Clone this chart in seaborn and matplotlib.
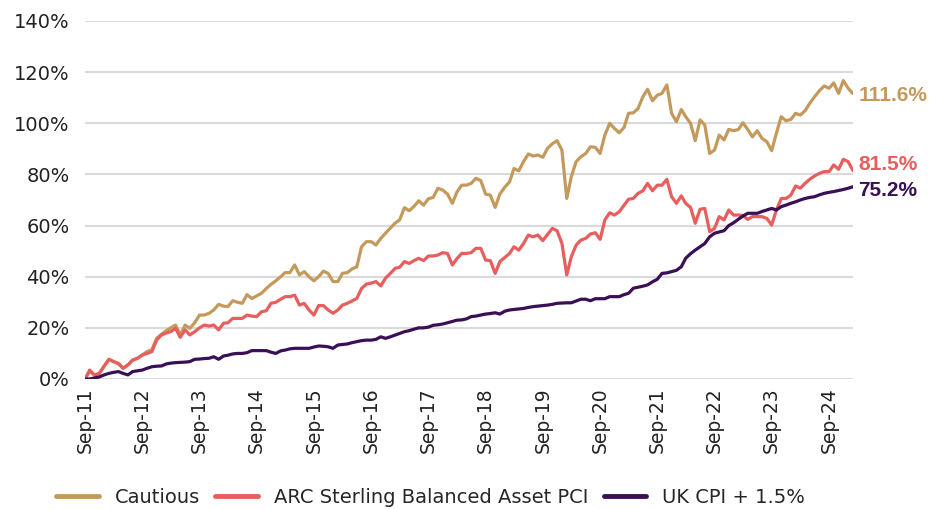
import pandas as pd
import seaborn as sns
import matplotlib.pyplot as plt
import matplotlib.dates as mdates
from matplotlib.ticker import FuncFormatter

# Monthly cumulative returns (%), Sep-11 onwards
cautious = [0, 3.0, 1.5, 2.2, 5, 7.7, 6.8, 6, 4.2, 5.5, 7.4, 8.1, 9.4, 10.7, 11.5, 15.9,
            17.5, 18.9, 20, 21.1, 17.2, 21.1, 19.8, 22, 25, 25, 25.7, 27, 29.2, 28.5,
            28.3, 30.6, 30, 29.6, 33, 31.5, 32.5, 33.5, 35.4, 37, 38.4, 40, 41.6, 41.6,
            44.6, 40.7, 42, 40, 38.4, 40, 42.2, 41.3, 38.1, 38.1, 41.3, 41.6, 43, 43.9,
            51.7, 53.7, 53.7, 52.4, 55, 57, 59, 61, 62.2, 67, 65.8, 67.5, 69.7, 68,
            70.5, 71, 74.6, 73.9, 72.3, 68.7, 73, 75.8, 75.8, 76.5, 78.5, 77.6, 72.3,
            71.9, 67.1, 72.3, 75, 77.1, 82.3, 81.4, 85, 88, 87.2, 87.6, 86.7, 90.2, 92,
            93.2, 89.5, 70.6, 79.1, 85, 86.9, 88.2, 90.8, 90.6, 88.2, 95.4, 100, 98,
            96.3, 98.4, 103.9, 104.1, 105.8, 110.4, 113.3, 108.8, 111, 111.7, 115,
            103.9, 100.6, 105.4, 102.6, 100, 93.2, 101.3, 99.3, 88.2, 89.5, 95.4, 93.5,
            97.6, 97.1, 97.6, 100.2, 97.6, 94.7, 97.1, 94.1, 92.8, 89.3, 96.1, 102.6,
            101, 101.5, 103.9, 103.2, 104.9, 107.8, 110.4, 112.7, 114.6, 113.7, 115.8,
            111.7, 116.7, 113.7, 111.6]

arc_balanced = [0, 3.5, 1.5, 2.2, 5, 7.7, 6.8, 6.1, 4.2, 5.5, 7.4, 8.1, 9.4, 10, 10.7,
                15.2, 17.2, 18, 18.5, 19.8, 16.3, 19.2, 17.2, 18.5, 20, 21.1, 20.7, 21.1,
                19.2, 21.8, 22, 23.7, 23.7, 23.7, 25, 24.6, 24.4, 26.3, 26.7, 29.6, 30,
                31.2, 32.2, 32.2, 32.8, 28.9, 29.6, 27, 25, 28.7, 28.7, 27, 25.7, 27,
                28.9, 29.6, 30.5, 31.5, 35.4, 37.1, 37.5, 38.1, 36.4, 39.4, 41.3, 43.3,
                43.7, 45.9, 45.2, 46.3, 47.2, 46.3, 48.1, 48.1, 48.5, 49.4, 49.1, 44.6,
                47, 49.1, 49.1, 49.4, 51.1, 51.1, 46.5, 46.3, 41.3, 45.9, 47.5, 49.1,
                51.7, 50.4, 53, 56.3, 55.6, 56.3, 54.1, 56.5, 58.9, 58, 53.1, 40.7, 47.8,
                52.4, 54.3, 55, 56.7, 57.2, 54.6, 62.2, 65, 64.1, 65.4, 68, 70.3, 70.6,
                72.6, 73.6, 76.5, 73.6, 75.8, 75.8, 78.1, 71.3, 68.7, 71.6, 68.7, 67.1,
                60.9, 66.4, 66.7, 57.6, 58.9, 63.5, 62.2, 66.1, 64.1, 64.1, 64, 62.4,
                63.5, 63.5, 63.5, 62.8, 60.2, 66.1, 70.6, 70.6, 71.9, 75.5, 74.6, 76.5,
                78.1, 79.4, 80.4, 81.1, 81.1, 83.7, 82, 85.9, 85, 81.5]

uk_cpi = [0, 0, 0.4, 0.8, 1.6, 2.2, 2.6, 2.9, 2.2, 1.6, 2.9, 3.2, 3.5, 4.2, 4.8, 5, 5.1,
          5.9, 6.2, 6.4, 6.5, 6.6, 6.8, 7.7, 7.8, 8, 8.1, 8.7, 7.7, 9, 9.3, 9.8, 10, 10,
          10.3, 11.1, 11.1, 11.1, 11.1, 10.5, 10, 11, 11.3, 11.8, 12, 12, 12, 12, 12.5,
          12.9, 12.8, 12.6, 12, 13.3, 13.5, 13.7, 14.2, 14.6, 15, 15.2, 15.2, 15.5, 16.5,
          15.9, 16.5, 17.2, 17.8, 18.5, 18.9, 19.5, 20, 20, 20.3, 21, 21.2, 21.5, 22,
          22.5, 23, 23.1, 23.5, 24.4, 24.6, 25, 25.4, 25.6, 25.9, 25.4, 26.5, 27, 27.2,
          27.4, 27.6, 28, 28.3, 28.5, 28.7, 28.9, 29.2, 29.6, 29.7, 29.8, 29.8, 30.5,
          31.2, 31.2, 30.6, 31.4, 31.4, 31.4, 32.2, 32.2, 32.2, 33, 33.5, 35.5, 35.9,
          36.3, 36.8, 38, 39, 41.3, 41.5, 42, 42.5, 43.9, 47.2, 49, 50.4, 51.7, 53, 55.6,
          57, 57.5, 58, 60, 61.1, 62.5, 63.7, 64.8, 64.8, 64.8, 65.5, 66.1, 66.7, 66.1,
          67.4, 68, 68.7, 69.3, 70, 70.6, 71, 71.3, 72, 72.6, 73, 73.3, 73.7, 74.1, 74.6,
          75.2]

series_names = ['Cautious', 'ARC Sterling Balanced Asset PCI', 'UK CPI + 1.5%']
colors = ['#C49A5C', '#E85E5E', '#3A0F55']

dates = pd.date_range('2011-09-01', periods=len(cautious), freq='MS')

df = pd.concat([
    pd.DataFrame({'Date': dates, 'Series': name, 'Return': vals})
    for name, vals in zip(series_names, [cautious, arc_balanced, uk_cpi])
])

sns.set_theme(style='white')
plt.rcParams['font.family'] = ['DejaVu Sans']

fig = plt.figure(figsize=(9.39, 5.09), dpi=100)
ax = fig.add_axes([85 / 939, 1 - 379 / 509, (853 - 85) / 939, (379 - 21) / 509])

sns.lineplot(data=df, x='Date', y='Return', hue='Series', hue_order=series_names,
             palette=colors, linewidth=2.3, ax=ax, zorder=3)

ax.set_xlim(dates[0], dates[-1])
ax.set_ylim(0, 140)
ax.set_yticks(range(0, 141, 20))
ax.yaxis.set_major_formatter(FuncFormatter(lambda v, _: f'{v:.0f}%'))
ax.grid(axis='y', color='#DADADA', linewidth=1.5, zorder=0)
ax.grid(axis='x', visible=False)
for s in ax.spines.values():
    s.set_visible(False)

sep_ticks = pd.date_range('2011-09-01', '2024-09-01', freq='12MS')
ax.set_xticks(sep_ticks)
ax.xaxis.set_major_formatter(mdates.DateFormatter('%b-%y'))
ax.tick_params(axis='x', labelrotation=90, labelsize=13.5, colors='#222222', length=0, pad=6)
ax.tick_params(axis='y', labelsize=14, colors='#222222', length=0, pad=11)
ax.set_xlabel('')
ax.set_ylabel('')

# end-of-series labels (nudged apart where they would collide)
nudges = [-1, 4.5, -2.5]
for name, vals, c, dy in zip(series_names, [cautious, arc_balanced, uk_cpi], colors, nudges):
    ax.annotate(f'{vals[-1]:.1f}%', xy=(dates[-1], vals[-1]), xytext=(4, dy),
                textcoords='offset points', ha='left', va='center',
                fontsize=15, fontweight='bold', color=c,
                family='Liberation Sans', annotation_clip=False)

leg = ax.legend(loc='center', bbox_to_anchor=(0.45, -0.33), ncol=3, frameon=False,
                fontsize=14, handlelength=2.2, handletextpad=0.8, columnspacing=0.8)
for line in leg.get_lines():
    line.set_linewidth(3.5)

fig.savefig('out.png', dpi=100)
